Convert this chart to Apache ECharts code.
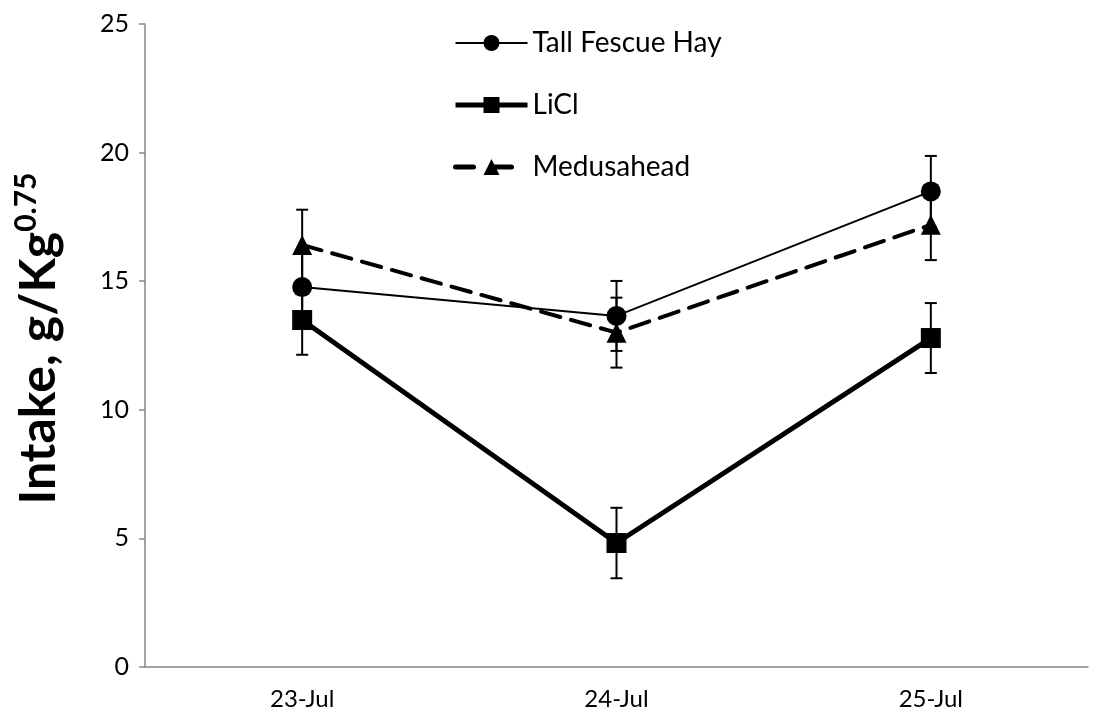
<!DOCTYPE html>
<html>
<head>
<meta charset="utf-8">
<script src="https://cdn.jsdelivr.net/npm/echarts@6/dist/echarts.min.js"></script>
<style>
  html, body { margin: 0; padding: 0; background: #fff; }
  #chart { width: 1101px; height: 725px; }
</style>
</head>
<body>
<div id="chart"></div>
<script>
const categories = ['23-Jul', '24-Jul', '25-Jul']

const fescue = [14.77, 13.65, 18.49]
const licl = [13.49, 4.82, 12.79]
const medusa = [16.41, 13.0, 17.19]

// standard errors
const fescueErr = [1.37, 1.36, 1.38]
const liclErr = [1.35, 1.37, 1.36]
const medusaErr = [1.37, 1.36, 1.37]

const font = "Lato, sans-serif"
const axisGray = '#868686'

function errorData(values, errs) {
    var out = []
    values.forEach(function (v, i) {
        out.push([i, v - errs[i], v + errs[i]])
    })
    return out
}

function renderErrorBar(params, api) {
    var lo = api.coord([api.value(0), api.value(1)])
    var hi = api.coord([api.value(0), api.value(2)])
    var half = 6
    var style = { stroke: '#000', lineWidth: 2 }
    return {
        type: 'group',
        children: [
            { type: 'line', shape: { x1: lo[0], y1: lo[1], x2: hi[0], y2: hi[1] }, style: style },
            { type: 'line', shape: { x1: lo[0] - half, y1: lo[1], x2: lo[0] + half, y2: lo[1] }, style: style },
            { type: 'line', shape: { x1: hi[0] - half, y1: hi[1], x2: hi[0] + half, y2: hi[1] }, style: style },
        ]
    }
}

function errorSeries(values, errs) {
    return {
        type: 'custom',
        renderItem: renderErrorBar,
        data: errorData(values, errs),
        encode: { x: 0, y: [1, 2] },
        silent: true,
        z: 1,
    }
}

var myChart = echarts.init(document.getElementById('chart'))
var option = {
    animation: false,
    grid: { left: 145, right: 13, top: 24, bottom: 58 },
    legend: {
        orient: 'vertical',
        left: 453,
        top: 28,
        padding: 0,
        itemWidth: 72,
        itemHeight: 20,
        itemGap: 32,
        data: [
            { name: 'Tall Fescue Hay', lineStyle: { width: 2 } },
            { name: 'LiCl', lineStyle: { width: 5 } },
            { name: 'Medusahead', lineStyle: { width: 5, type: [18, 20], dashOffset: 0 } },
        ],
        textStyle: { fontFamily: font, fontSize: 28, color: '#000', lineHeight: 30 },
    },
    xAxis: {
        type: 'category',
        data: categories,
        boundaryGap: true,
        axisLine: { lineStyle: { color: axisGray, width: 1.5 } },
        axisTick: { length: 7, lineStyle: { color: axisGray, width: 1.5 } },
        axisLabel: { fontFamily: font, fontSize: 24, color: '#000', margin: 20 },
    },
    yAxis: {
        type: 'value',
        min: 0,
        max: 25,
        interval: 5,
        splitLine: { show: false },
        axisLine: { show: true, lineStyle: { color: axisGray, width: 1.5 } },
        axisTick: { show: true, length: 6, lineStyle: { color: axisGray, width: 1.5 } },
        axisLabel: { fontFamily: font, fontSize: 25, color: '#000', margin: 16 },
        name: '{a|Intake, g/Kg}{b|0.75}',
        nameLocation: 'middle',
        nameGap: 78,
        nameTextStyle: {
            padding: [0, 0, 0, 14],
            rich: {
                a: { fontFamily: font, fontSize: 50, fontWeight: 'bold', color: '#000', lineHeight: 56 },
                b: { fontFamily: font, fontSize: 30, fontWeight: 'bold', color: '#000', verticalAlign: 'top', lineHeight: 30 },
            }
        },
    },
    series: [
        {
            name: 'Tall Fescue Hay',
            type: 'line',
            data: fescue,
            symbol: 'circle',
            symbolSize: 20,
            itemStyle: { color: '#000' },
            lineStyle: { color: '#000', width: 2 },
            z: 3,
        },
        {
            name: 'LiCl',
            type: 'line',
            data: licl,
            symbol: 'rect',
            symbolSize: 20,
            itemStyle: { color: '#000' },
            lineStyle: { color: '#000', width: 5 },
            z: 3,
        },
        {
            name: 'Medusahead',
            type: 'line',
            data: medusa,
            symbol: 'triangle',
            symbolSize: 20,
            itemStyle: { color: '#000' },
            lineStyle: { color: '#000', width: 4, type: [20, 11], cap: 'round' },
            z: 3,
        },
        errorSeries(fescue, fescueErr),
        errorSeries(licl, liclErr),
        errorSeries(medusa, medusaErr),
    ],
}

option && myChart.setOption(option)
</script>
</body>
</html>
